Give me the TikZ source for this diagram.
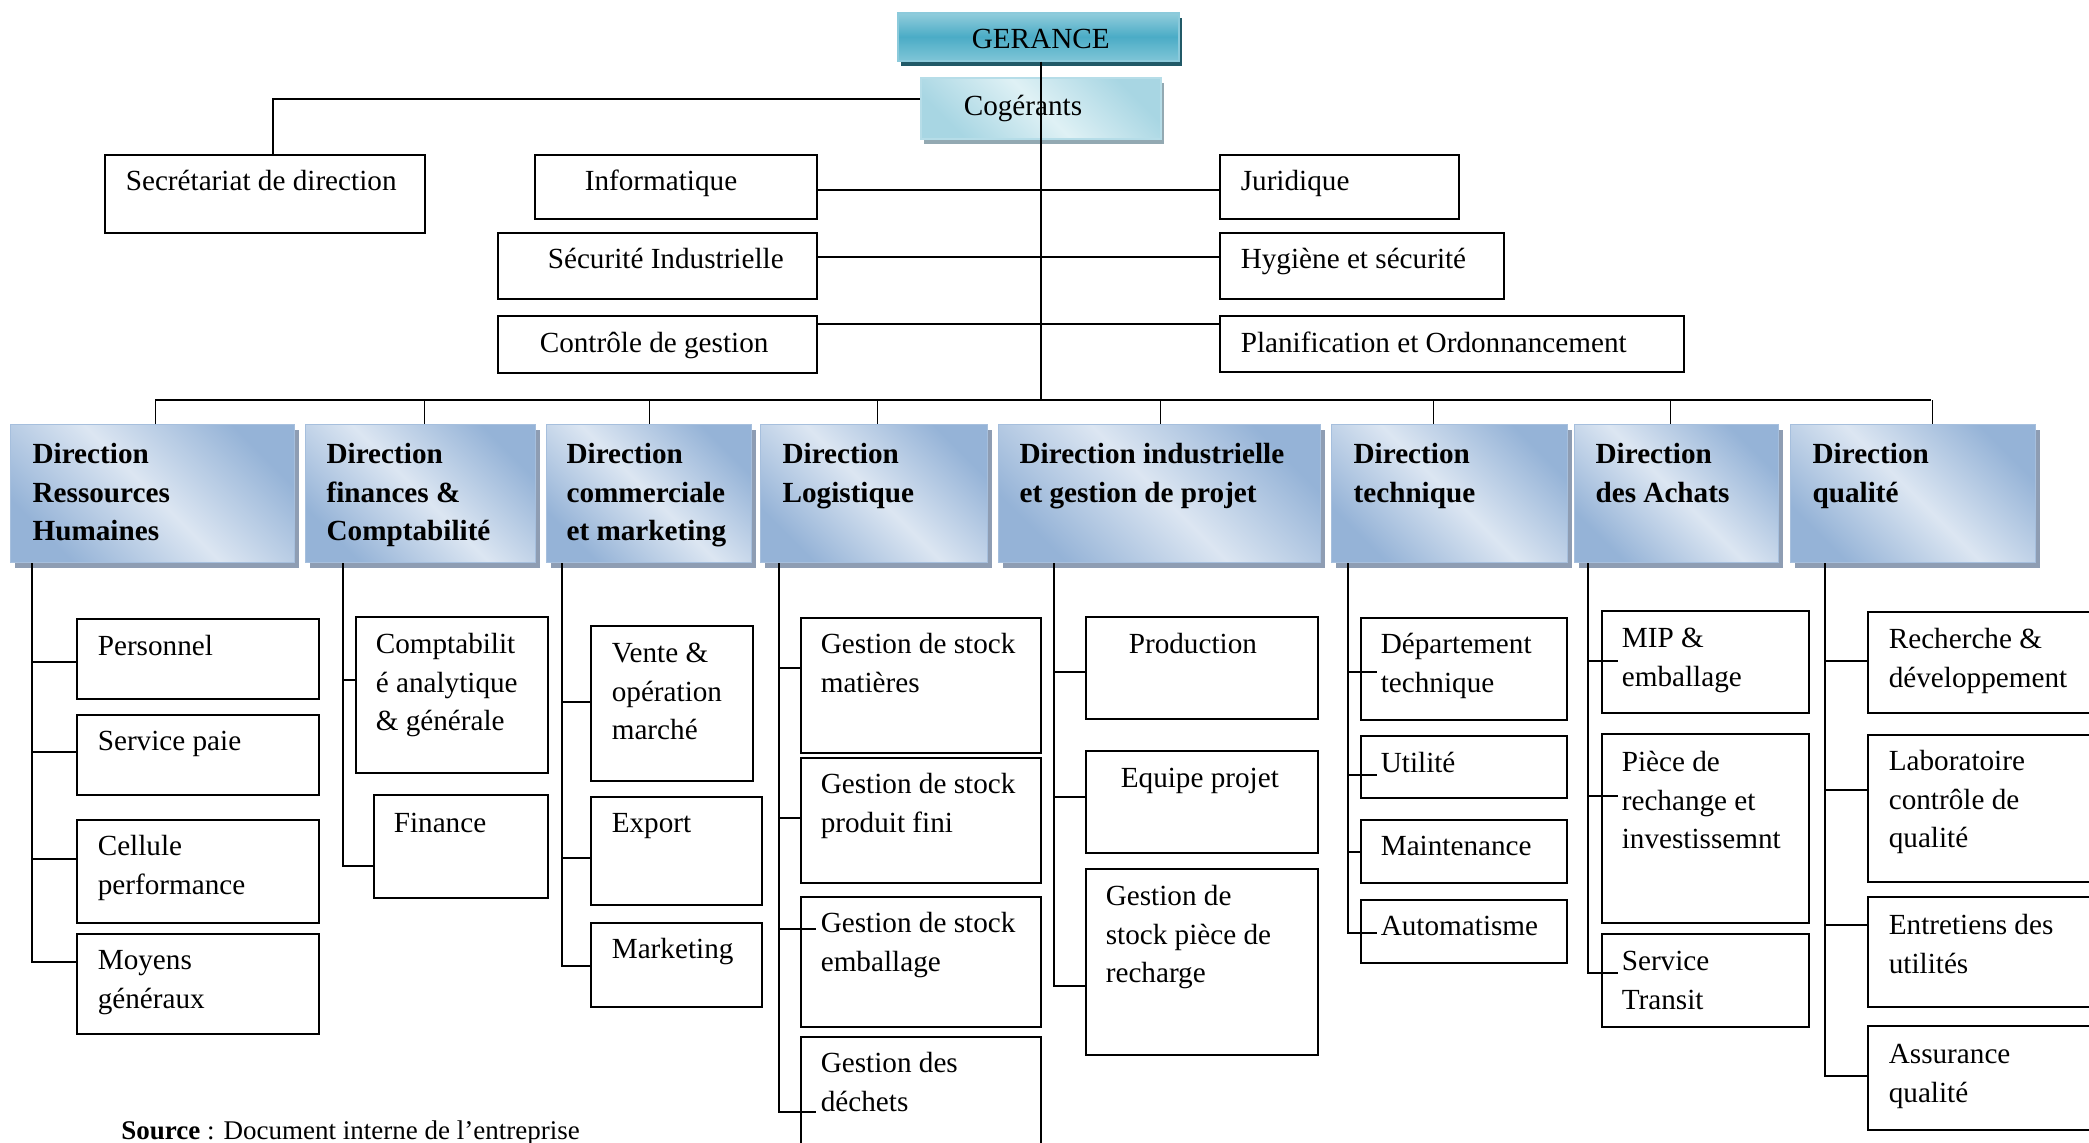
\documentclass[tikz,border=0pt]{standalone}
\usepackage{fontspec}
\setmainfont{Liberation Serif}
\usetikzlibrary{shadows}

\definecolor{gerTop}{HTML}{92CDDC}
\definecolor{gerMid}{HTML}{4BACC6}
\definecolor{gerBot}{HTML}{7FC5D7}
\definecolor{gerLine}{HTML}{8CCADB}
\definecolor{gerShadow}{HTML}{215967}
\definecolor{cogDark}{HTML}{A8D6E3}
\definecolor{cogLight}{HTML}{DFF1F5}
\definecolor{cogLine}{HTML}{B6DDE8}
\definecolor{cogShadow}{HTML}{93A9B2}
\definecolor{dirDark}{HTML}{95B3D7}
\definecolor{dirLight}{HTML}{DCE6F2}
\definecolor{dirLine}{HTML}{A6BFDD}
\definecolor{dirShadow}{HTML}{8E9DB3}

% one drawing unit = one pixel of the chart
\newlength\pxu
\setlength\pxu{0.5pt}
\newcommand\orgfont{\fontsize{14.6pt}{19.25pt}\selectfont}
% box contents: width, height, left padding, first baseline depth (px), text
\newcommand\orgtext[5]{\parbox[t][#2\pxu][t]{#1\pxu}{\raggedright\leftskip=#3\pxu\relax\rule{0pt}{#4\pxu}#5}}

\tikzset{
  orgbox/.style={draw, line width=0.8pt, inner sep=0pt, anchor=north west, font=\orgfont},
  dirbox/.style={draw=dirLine, line width=0.6pt, inner sep=0pt, anchor=north west,
    font=\orgfont\bfseries, top color=dirDark, bottom color=dirDark, middle color=dirLight,
    shading angle=135,
    drop shadow={shadow xshift=2pt, shadow yshift=-2.5pt, fill=dirShadow, opacity=1}},
  gerbox/.style={draw=gerLine, line width=0.8pt, inner sep=0pt, anchor=north west,
    font=\orgfont, top color=gerTop, bottom color=gerBot, middle color=gerMid,
    drop shadow={shadow xshift=1.5pt, shadow yshift=-2.5pt, fill=gerShadow, opacity=1}},
  cogbox/.style={draw=cogLine, line width=0.8pt, inner sep=0pt, anchor=north west,
    font=\orgfont, top color=cogDark, bottom color=cogDark, middle color=cogLight,
    shading angle=135,
    drop shadow={shadow xshift=1.5pt, shadow yshift=-2.8pt, fill=cogShadow, opacity=1}},
  link/.style={line width=0.7pt},
}

\begin{document}
\begin{tikzpicture}[x=0.5pt, y=-0.5pt]
\useasboundingbox (0,0) rectangle (2089,1143);
\clip (0,0) rectangle (2089,1143);

% management and staff services
\node[gerbox] (ger) at (897,12) {\orgtext{281}{48}{74}{36}{GERANCE}};
\node[cogbox] (cog) at (920,77) {\orgtext{240}{61}{43}{38}{Cogérants}};
\node[orgbox] (sec) at (104,154) {\orgtext{320}{78}{21}{36}{Secrétariat de direction}};
\node[orgbox] (info) at (534,154) {\orgtext{282}{64}{50}{36}{Informatique}};
\node[orgbox] (secu) at (497,232) {\orgtext{319}{66}{50}{36}{Sécurité Industrielle}};
\node[orgbox] (ctrl) at (497,315) {\orgtext{319}{57}{42}{37}{Contrôle de gestion}};
\node[orgbox] (jur) at (1219,154) {\orgtext{239}{64}{21}{36}{Juridique}};
\node[orgbox] (hyg) at (1219,232) {\orgtext{284}{66}{21}{36}{Hygiène et sécurité}};
\node[orgbox] (plan) at (1219,315) {\orgtext{464}{56}{21}{37}{Planification et Ordonnancement}};

% directions
\node[dirbox] (dRH) at (10,424) {\orgtext{284}{138}{22}{39}{Direction\\Ressources\\Humaines}};
\node[dirbox] (dFin) at (305,424) {\orgtext{230}{138}{21}{39}{Direction\\finances \&\\Comptabilité}};
\node[dirbox] (dCom) at (546,424) {\orgtext{205}{138}{20}{39}{Direction\\commerciale\\et marketing}};
\node[dirbox] (dLog) at (760,424) {\orgtext{227}{138}{22}{39}{Direction\\Logistique}};
\node[dirbox] (dInd) at (998,424) {\orgtext{322}{138}{21}{39}{Direction industrielle\\et gestion de projet}};
\node[dirbox] (dTec) at (1331,424) {\orgtext{236}{138}{22}{39}{Direction\\technique}};
\node[dirbox] (dAch) at (1574,424) {\orgtext{204}{138}{21}{39}{Direction\\des Achats}};
\node[dirbox] (dQua) at (1790,424) {\orgtext{245}{138}{22}{39}{Direction\\qualité}};

% services of each direction
\node[orgbox] (pers) at (76,618) {\orgtext{242}{80}{21}{37}{Personnel}};
\node[orgbox] (paie) at (76,714) {\orgtext{242}{80}{21}{36}{Service paie}};
\node[orgbox] (cell) at (76,819) {\orgtext{242}{103}{21}{36}{Cellule\\performance}};
\node[orgbox] (moy) at (76,933) {\orgtext{242}{100}{21}{36}{Moyens\\généraux}};

\node[orgbox] (compta) at (355,616) {\orgtext{192}{156}{20}{37}{Comptabilit\\é analytique\\\& générale}};
\node[orgbox] (fina) at (373,794) {\orgtext{174}{103}{20}{38}{Finance}};

\node[orgbox] (vente) at (590,625) {\orgtext{162}{155}{21}{37}{Vente \&\\opération\\marché}};
\node[orgbox] (expo) at (590,796) {\orgtext{171}{108}{21}{36}{Export}};
\node[orgbox] (mkt) at (590,922) {\orgtext{171}{84}{21}{36}{Marketing}};

\node[orgbox] (gsm) at (800,617) {\orgtext{240}{135}{20}{36}{Gestion de stock\\matières}};
\node[orgbox] (gsp) at (800,757) {\orgtext{240}{125}{20}{36}{Gestion de stock\\produit fini}};
\node[orgbox] (gse) at (800,896) {\orgtext{240}{130}{20}{36}{Gestion de stock\\emballage}};
\node[orgbox] (gsd) at (800,1036) {\orgtext{240}{140}{20}{36}{Gestion des\\déchets}};

\node[orgbox] (prod) at (1085,616) {\orgtext{232}{102}{43}{37}{Production}};
\node[orgbox] (equi) at (1085,750) {\orgtext{232}{102}{35}{37}{Equipe projet}};
\node[orgbox] (gsr) at (1085,868) {\orgtext{232}{186}{20}{37}{Gestion de\\stock pièce de\\recharge}};

\node[orgbox] (dept) at (1360,617) {\orgtext{206}{102}{20}{36}{Département\\technique}};
\node[orgbox] (util) at (1360,735) {\orgtext{206}{62}{20}{37}{Utilité}};
\node[orgbox] (maint) at (1360,819) {\orgtext{206}{63}{20}{36}{Maintenance}};
\node[orgbox] (auto) at (1360,899) {\orgtext{206}{63}{20}{36}{Automatisme}};

\node[orgbox] (mip) at (1601,610) {\orgtext{207}{102}{20}{37}{MIP \&\\emballage}};
\node[orgbox] (piece) at (1601,733) {\orgtext{207}{189}{20}{38}{Pièce de\\rechange et\\investissemnt}};
\node[orgbox] (trans) at (1601,933) {\orgtext{207}{93}{20}{37}{Service\\Transit}};

\node[orgbox] (rd) at (1867,611) {\orgtext{240}{101}{21}{37}{Recherche \&\\développement}};
\node[orgbox] (labo) at (1867,734) {\orgtext{240}{147}{21}{36}{Laboratoire\\contrôle de\\qualité}};
\node[orgbox] (entr) at (1867,896) {\orgtext{240}{110}{21}{38}{Entretiens des\\utilités}};
\node[orgbox] (assu) at (1867,1025) {\orgtext{240}{104}{21}{38}{Assurance\\qualité}};

\node[font=\fontsize{13.5pt}{16pt}\selectfont, anchor=base west, inner sep=0pt] (src) at (121,1139)
  {\textbf{Source} : Document interne de l’entreprise};

% links from the management
\coordinate (busL) at (155,400);
\coordinate (busR) at (1931,400);
\draw[link] ([xshift=1.25pt]ger.south) -- ([xshift=1.25pt]ger.south |- busL);
\draw[link] (busL) -- (busR);
\draw[link] ([yshift=-11pt]cog.north west) -| ([xshift=4pt]sec.north);
\draw[link] ([yshift=-18pt]info.north east) -- ([yshift=-18pt]jur.north west);
\draw[link] ([yshift=-12.5pt]secu.north east) -- ([yshift=-12.5pt]hyg.north west);
\draw[link] ([yshift=-4.5pt]ctrl.north east) -- ([yshift=-4.5pt]plan.north west);
\foreach \d/\s in {dRH/1.5pt, dFin/2pt, dCom/0.25pt, dLog/1.75pt, dInd/0.5pt, dTec/-8pt, dAch/-3pt, dQua/9.75pt}
  \draw[link] ([xshift=\s]\d.north) -- ([xshift=\s]\d.north |- busL);

% links inside each direction
\foreach \c/\y in {pers/-22pt, paie/-19pt, cell/-20pt, moy/-14.5pt}
  \draw[link] ([xshift=11pt]dRH.south west) |- ([yshift=\y]\c.north west);
\foreach \c/\y in {compta/-32pt, fina/-36pt}
  \draw[link] ([xshift=19pt]dFin.south west) |- ([yshift=\y]\c.north west);
\foreach \c/\y in {vente/-38.5pt, expo/-31pt, mkt/-22pt}
  \draw[link] ([xshift=8pt]dCom.south west) |- ([yshift=\y]\c.north west);
\foreach \c/\y/\x in {gsm/-25.5pt/0pt, gsp/-30.5pt/0pt, gse/-16.5pt/8pt, gsd/-38pt/8pt}
  \draw[link] ([xshift=9.5pt]dLog.south west) |- ([xshift=\x,yshift=\y]\c.north west);
\foreach \c/\y in {prod/-28pt, equi/-23.5pt, gsr/-59pt}
  \draw[link] ([xshift=28pt]dInd.south west) |- ([yshift=\y]\c.north west);
\foreach \c/\y/\x in {dept/-27.5pt/8.5pt, util/-20pt/8.5pt, maint/-16.5pt/0pt, auto/-17pt/8.5pt}
  \draw[link] ([xshift=8.5pt]dTec.south west) |- ([xshift=\x,yshift=\y]\c.north west);
\foreach \c/\y in {mip/-25.5pt, piece/-31.5pt, trans/-20pt}
  \draw[link] ([xshift=7pt]dAch.south west) |- ([xshift=8.5pt,yshift=\y]\c.north west);
\foreach \c/\y in {rd/-25pt, labo/-28pt, entr/-14.5pt, assu/-25.5pt}
  \draw[link] ([xshift=17.5pt]dQua.south west) |- ([yshift=\y]\c.north west);
\end{tikzpicture}
\end{document}
